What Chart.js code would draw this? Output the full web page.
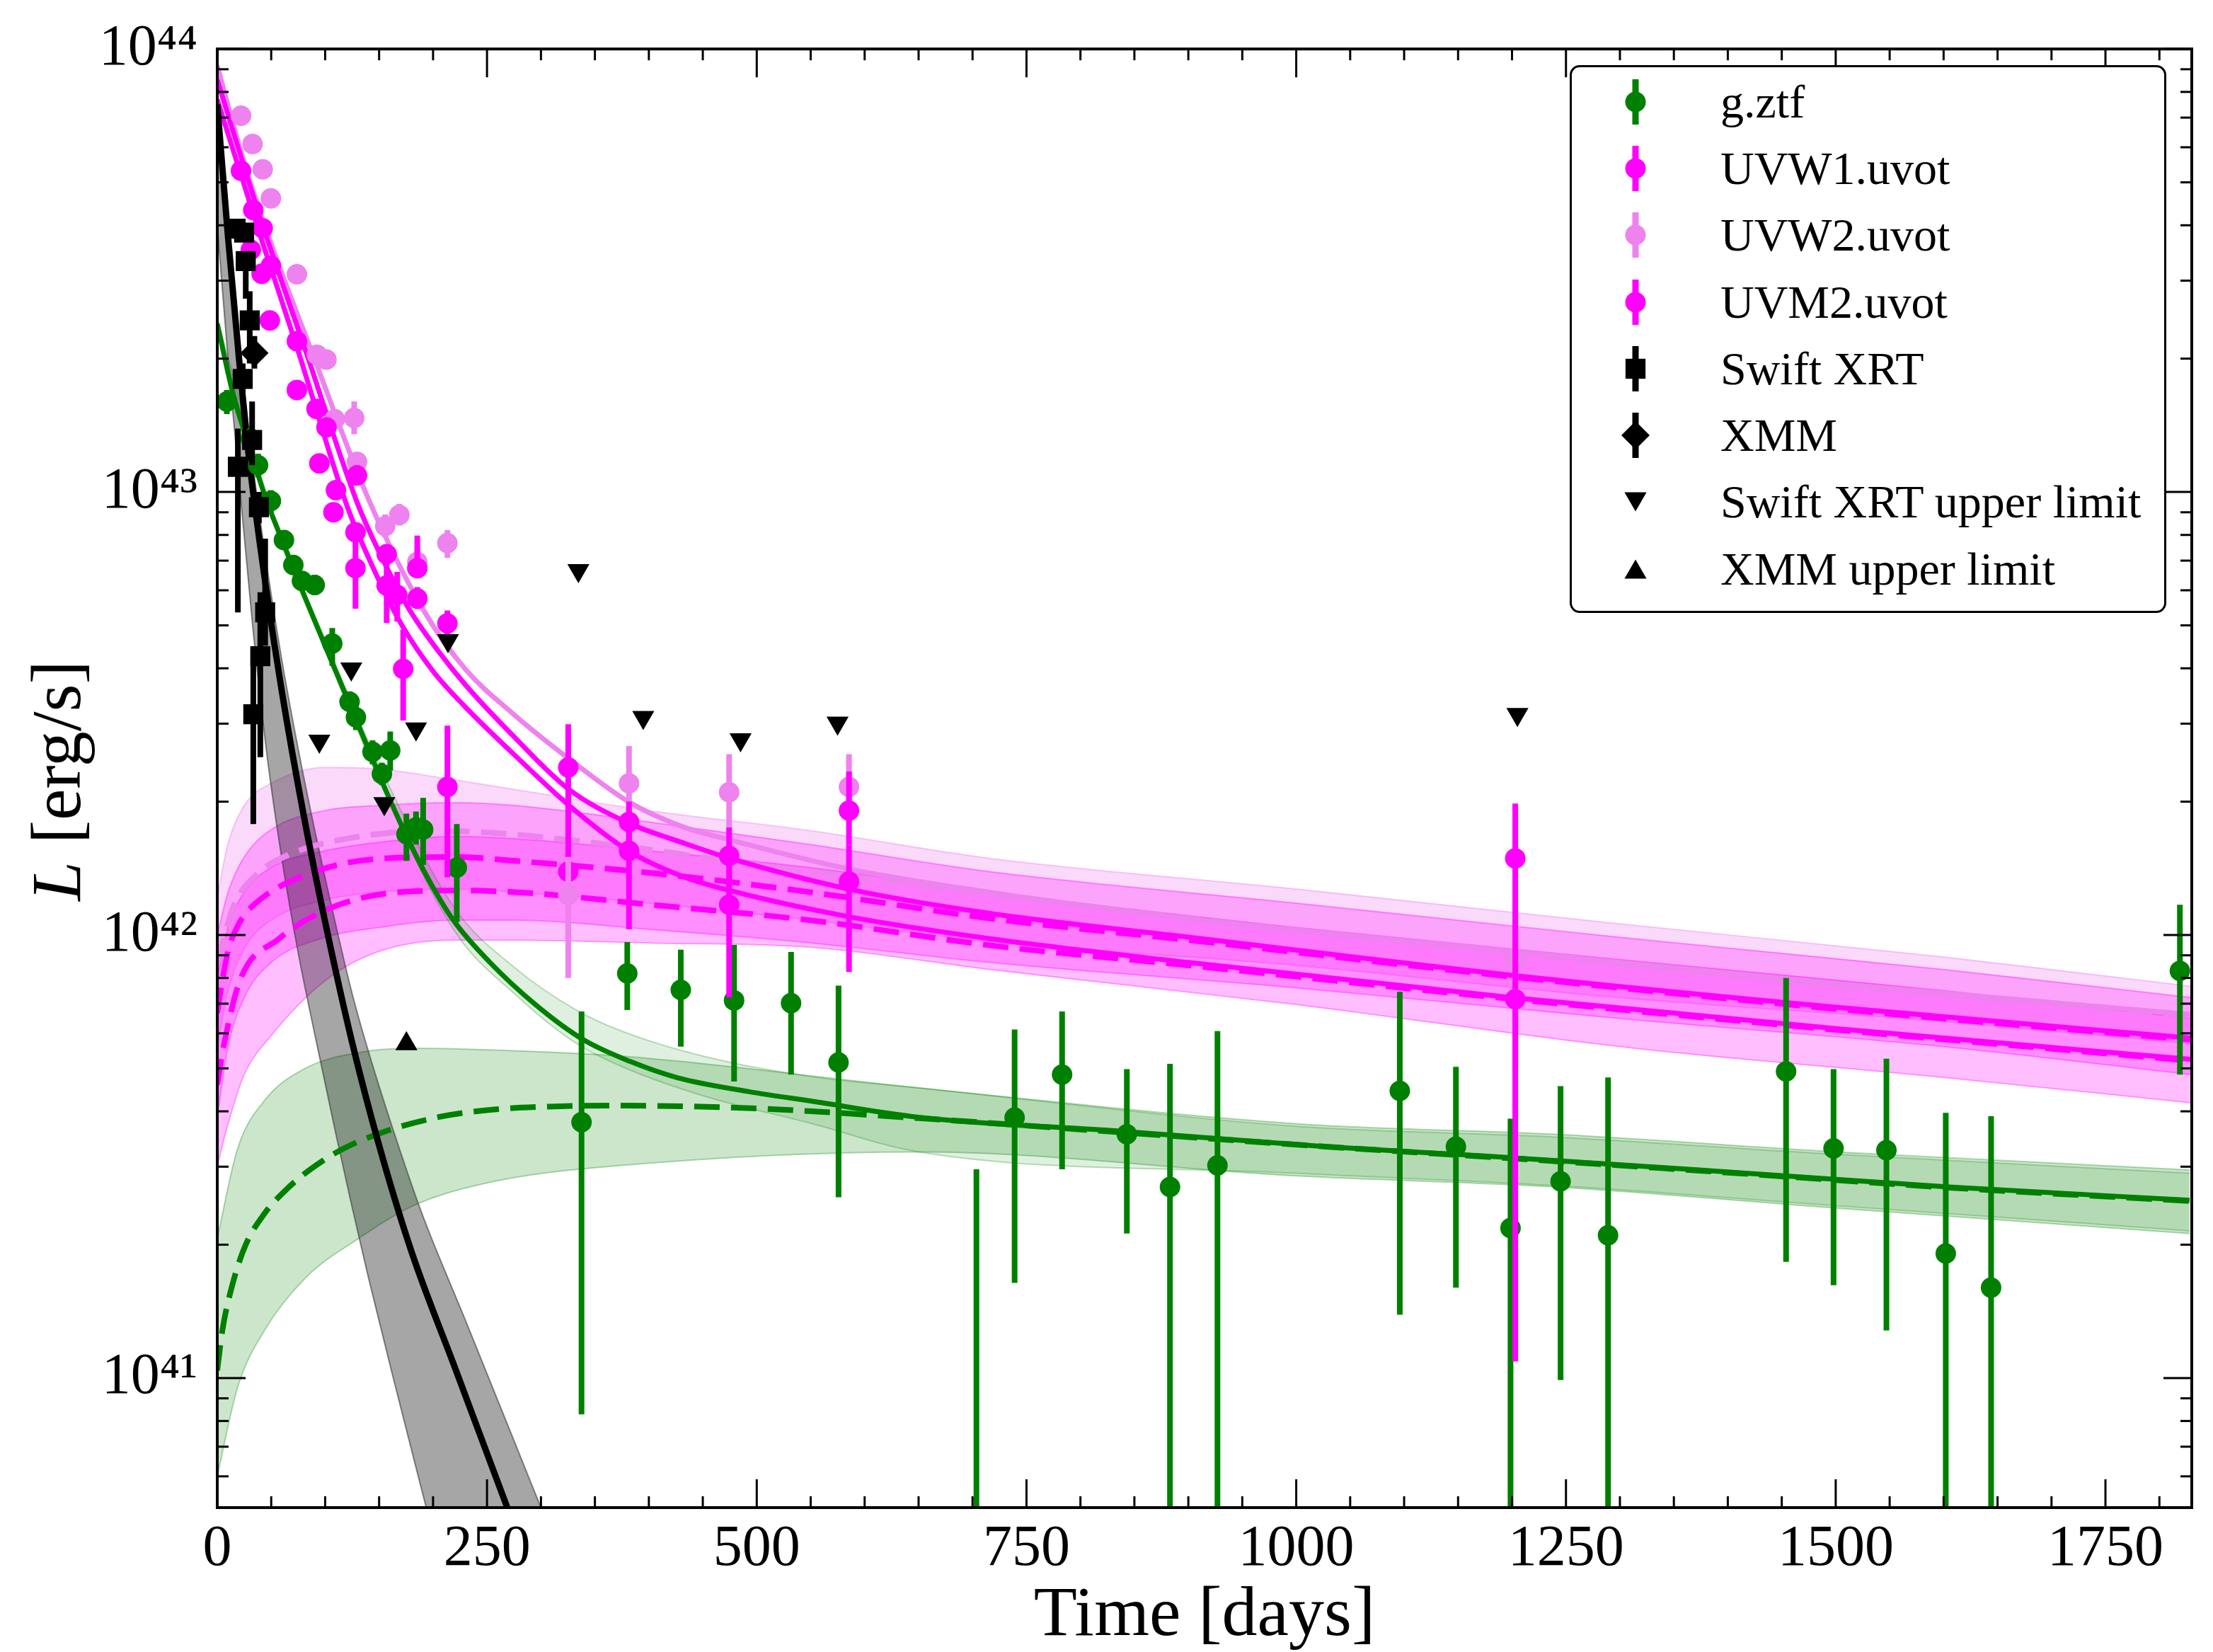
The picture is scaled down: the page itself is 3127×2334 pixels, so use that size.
<!DOCTYPE html>
<html>
<head>
<meta charset="utf-8">
<script src="https://cdn.jsdelivr.net/npm/chart.js@4.4.1/dist/chart.umd.min.js"></script>
<style>
  html, body { margin: 0; padding: 0; background: #fff; }
  #wrap { position: relative; width: 3127px; height: 2334px; font-family: 'Liberation Serif', 'DejaVu Serif', serif; }
  #yTitle { position: absolute; left: 80px; top: 1103px; transform: translate(-50%, -50%) rotate(-90deg);
            font-size: 100px; line-height: 1; white-space: nowrap; color: #000; }
  #legend { position: absolute; left: 2218px; top: 92px; width: 843px; height: 774px; box-sizing: border-box;
            border: 3px solid #000; border-radius: 14px; background: #fff; }
  .row { position: absolute; left: 50px; height: 94px; display: flex; align-items: center;
         font-size: 66px; line-height: 94px; color: #000; white-space: nowrap; }
  .row span { margin-left: 80px; }
</style>
</head>
<body>
<div id="wrap">
  <canvas id="c" width="3127" height="2334"></canvas>
  <div id="yTitle"><i>L</i> [erg/s]</div>
  <div id="legend"></div>
</div>
<script>
// ---- axis ticks ----
const xMajorTicks = [0, 250, 500, 750, 1000, 1250, 1500, 1750];
const yMajorTicks = [1e41, 1e42, 1e43, 1e44];

// ---- photometry: g.ztf ----
const gztfDays = [8.9, 31.1, 37.8, 49.7, 61.8, 70.5, 78.5, 90.3, 106.6, 122.6, 128.5, 143.9, 152.6, 160.3, 175.3, 184.2, 190.8, 222, 337.6, 380, 429.6, 479, 531.8, 575.8, 703.6, 739, 783, 843, 883, 927, 1096, 1148, 1198.6, 1245, 1289, 1454, 1498, 1547, 1602, 1644, 1819];
const gztfLum = [1.6e43, 1.32e43, 1.15e43, 9.55e42, 7.79e42, 6.84e42, 6.3e42, 6.17e42, 4.55e42, 3.36e42, 3.1e42, 2.59e42, 2.31e42, 2.61e42, 1.69e42, 1.75e42, 1.73e42, 1.42e42, 3.78e41, 8.19e41, 7.52e41, 7.12e41, 7.02e41, 5.16e41, 3.0e40, 3.87e41, 4.84e41, 3.55e41, 2.7e41, 3.02e41, 4.45e41, 3.33e41, 2.18e41, 2.78e41, 2.1e41, 4.92e41, 3.3e41, 3.27e41, 1.91e41, 1.6e41, 8.3e41];
const gztfHi = [1.7e43, 1.4e43, 1.22e43, 1.01e43, 8.2e42, 7.2e42, 6.6e42, 6.5e42, 4.93e42, 3.55e42, 3.3e42, 2.75e42, 2.45e42, 2.88e42, 1.88e42, 1.9e42, 2.04e42, 1.78e42, 6.72e41, 9.64e41, 9.27e41, 9.5e41, 9.16e41, 7.69e41, 2.96e41, 6.12e41, 6.72e41, 4.98e41, 5.12e41, 6.07e41, 7.45e41, 5.04e41, 3.85e41, 4.56e41, 4.77e41, 8.0e41, 4.98e41, 5.26e41, 3.97e41, 3.9e41, 1.17e42];
const gztfLo = [1.5e43, 1.25e43, 1.08e43, 9.0e42, 7.4e42, 6.5e42, 6.0e42, 5.85e42, 4.05e42, 3.17e42, 2.9e42, 2.43e42, 2.18e42, 2.35e42, 1.47e42, 1.6e42, 1.44e42, 1.07e42, 8.28e40, 6.77e41, 5.6e41, 4.67e41, 4.84e41, 2.56e41, 1e39, 1.64e41, 2.96e41, 2.12e41, 1e39, 1e39, 1.39e41, 1.6e41, 1e39, 9.9e40, 1e39, 1.83e41, 1.62e41, 1.28e41, 1e39, 1e39, 4.84e41];

// ---- photometry: UVW1 ----
const uvw1Days = [33.4, 41.1, 48.7, 73.8, 92, 94.6, 107.7, 128.1, 128.1, 157, 166.8, 172.3, 185.4, 213.3, 325.3, 381.6, 474.4, 585.5, 1203];
const uvw1Lum = [4.33e43, 3.11e43, 2.44e43, 1.7e43, 1.54e43, 1.16e43, 9.0e42, 8.11e42, 6.73e42, 6.15e42, 5.86e42, 3.99e42, 5.75e42, 2.16e42, 1.39e42, 1.55e42, 1.17e42, 1.32e42, 7.16e41];
const uvw1Hi = [4.5e43, 3.25e43, 2.55e43, 1.78e43, 1.61e43, 1.21e43, 9.4e42, 8.5e42, 8.1e42, 7.24e42, 6.6e42, 4.89e42, 6.1e42, 2.97e42, 1.9e42, 1.8e42, 1.5e42, 1.6e42, 9.0e41];
const uvw1Lo = [4.15e43, 2.98e43, 2.34e43, 1.63e43, 1.47e43, 1.11e43, 8.6e42, 7.75e42, 5.45e42, 5.06e42, 5.1e42, 3.05e42, 5.44e42, 1.35e42, 9.75e41, 1.03e42, 7.23e41, 8.25e41, 5.0e41];

// ---- photometry: UVW2 ----
const uvw2Days = [22, 32.7, 42.1, 49.7, 73.8, 92.4, 101.2, 108.9, 126.9, 129.5, 155.7, 168.8, 185.4, 213.3, 325.3, 381.6, 474.4, 585.5, 1203];
const uvw2Lum = [7.07e43, 6.1e43, 5.35e43, 4.6e43, 3.1e43, 2.04e43, 1.99e43, 1.46e43, 1.47e43, 1.17e43, 8.38e42, 8.88e42, 6.95e42, 7.67e42, 1.23e42, 2.2e42, 2.1e42, 2.16e42, 8.8e41];
const uvw2Hi = [7.3e43, 6.3e43, 5.5e43, 4.75e43, 3.2e43, 2.1e43, 2.05e43, 1.52e43, 1.6e43, 1.22e43, 8.9e42, 9.4e42, 7.5e42, 8.2e42, 1.7e42, 2.67e42, 2.56e42, 2.56e42, 9.8e41];
const uvw2Lo = [6.85e43, 5.9e43, 5.2e43, 4.45e43, 3.0e43, 1.98e43, 1.93e43, 1.4e43, 1.35e43, 1.12e43, 7.9e42, 8.4e42, 6.5e42, 7.1e42, 8.0e41, 1.8e42, 1.34e42, 1.8e42, 4.95e41];

// ---- photometry: UVM2 ----
const uvm2Days = [22.0, 31.1, 42.1, 49.7, 73.8, 101.2, 110, 129.5, 157, 185.4, 213.3, 325.3, 381.6, 474.4, 585.5, 1203];
const uvm2Lum = [5.31e43, 3.52e43, 3.94e43, 3.24e43, 2.19e43, 1.4e43, 1.01e43, 1.09e43, 7.24e42, 6.73e42, 5.05e42, 2.39e42, 1.8e42, 1.51e42, 1.91e42, 1.49e42];
const uvm2Hi = [5.5e43, 3.65e43, 4.1e43, 3.4e43, 2.3e43, 1.47e43, 1.06e43, 1.15e43, 7.6e42, 7.97e42, 5.4e42, 2.99e42, 2.0e42, 1.75e42, 2.34e42, 1.98e42];
const uvm2Lo = [5.1e43, 3.38e43, 3.8e43, 3.1e43, 2.1e43, 1.34e43, 9.7e42, 1.04e43, 6.9e42, 6.4e42, 4.7e42, 1.5e42, 1.6e42, 1.25e42, 1.6e42, 1.09e41];

// ---- X-ray ----
const xrtDays = [17, 24.9, 26.4, 30.1, 23.6, 32.3, 19.1, 38.6, 44.4, 39.9, 33.4];
const xrtLum = [3.93e43, 3.85e43, 3.32e43, 2.44e43, 1.8e43, 1.31e43, 1.14e43, 9.24e42, 5.35e42, 4.26e42, 3.15e42];
const xrtHi = [4.1e43, 4.0e43, 3.46e43, 2.84e43, 1.95e43, 1.6e43, 1.39e43, 1.0e43, 7.85e42, 5.94e42, 4.44e42];
const xrtLo = [3.75e43, 3.7e43, 2.73e43, 1.95e43, 1.65e43, 1.15e43, 5.35e42, 8.5e42, 4.5e42, 2.52e42, 1.78e42];
const xmmDays = [34.4];
const xmmLum = [2.06e43];
const xmmHi = [2.25e43];
const xmmLo = [1.9e43];
const xrtUlDays = [94.6, 124.2, 154.8, 184.2, 213.8, 334.7, 394.8, 485, 574.9, 1205];
const xrtUlLum = [2.74e42, 3.99e42, 1.98e42, 2.92e42, 4.62e42, 6.65e42, 3.1e42, 2.76e42, 3.01e42, 3.15e42];
const xmmUlDays = [175.3];
const xmmUlLum = [5.68e41];

// ---- model: g band ----
const gFitDays = [0, 15, 30, 45, 60, 80, 100, 120, 140, 160, 180, 200, 220, 252, 296, 340, 383, 427, 493, 550, 650, 842, 1027, 1175, 1390, 1605, 1828];
const gFitLum = [2.40e43, 1.65e43, 1.26e43, 9.66e42, 7.80e42, 5.89e42, 4.49e42, 3.44e42, 2.63e42, 2.02e42, 1.585e42, 1.28e42, 1.07e42, 8.71e41, 6.93e41, 5.79e41, 5.18e41, 4.76e41, 4.43e41, 4.22e41, 3.88e41, 3.60e41, 3.33e41, 3.17e41, 2.93e41, 2.70e41, 2.52e41];
const gFitBandDays = [0, 50, 100, 150, 220, 276, 332, 374, 450, 550, 650, 1000, 1240, 1500, 1828];
const gFitBandHi = [2.46e43, 9.2e42, 4.65e42, 2.42e42, 1.15e42, 8.43e41, 6.79e41, 6.08e41, 5.33e41, 4.79e41, 4.52e41, 3.7e41, 3.5e41, 3.2e41, 2.9e41];
const gFitBandLo = [2.35e43, 8.79e42, 4.39e42, 2.23e42, 1.02e42, 7.35e41, 5.71e41, 5.06e41, 4.34e41, 3.76e41, 3.24e41, 2.9e41, 2.72e41, 2.45e41, 2.15e41];
const gPlatDays = [0, 4.7, 13.6, 26, 43.7, 63.7, 86.4, 116.4, 156.6, 206.9, 257, 307.3, 374.6, 500, 650, 842, 1027, 1175, 1390, 1605, 1828];
const gPlatLum = [1.04e41, 1.28e41, 1.61e41, 1.99e41, 2.35e41, 2.66e41, 2.96e41, 3.29e41, 3.61e41, 3.89e41, 4.04e41, 4.10e41, 4.12e41, 4.06e41, 3.86e41, 3.58e41, 3.33e41, 3.16e41, 2.92e41, 2.69e41, 2.51e41];
const gPlatBandDays = [0, 18.8, 43.7, 81.5, 131.6, 181.8, 257, 374.6, 650, 1000, 1240, 1500, 1828];
const gPlatBandHi = [2.07e41, 3.29e41, 4.23e41, 5.0e41, 5.43e41, 5.55e41, 5.5e41, 5.33e41, 4.52e41, 3.75e41, 3.55e41, 3.24e41, 2.95e41];
const gPlatBandLo = [6.0e40, 9.52e40, 1.28e41, 1.68e41, 2.07e41, 2.45e41, 2.78e41, 3.02e41, 3.24e41, 2.86e41, 2.70e41, 2.42e41, 2.12e41];

// ---- model: X-ray ----
const xFitDays = [0, 10, 20, 30, 45, 60, 80, 100, 125, 150, 180, 220, 270, 300];
const xFitLum = [7.5e43, 3.76e43, 2.02e43, 1.16e43, 6.13e42, 3.53e42, 1.87e42, 1.07e42, 5.72e41, 3.35e41, 1.93e41, 1.06e41, 5.01e40, 3.22e40];
const xBandDays = [0, 10, 20, 33, 46, 60, 75, 90, 110, 125, 140, 165, 190, 230, 300];
const xBandHi = [8.04e43, 4.12e43, 2.21e43, 1.15e43, 6.79e42, 4.15e42, 2.63e42, 1.74e42, 1.05e42, 7.37e41, 5.47e41, 3.51e41, 2.34e41, 1.35e41, 5.1e40];
const xBandLo = [4.0e43, 2.0e43, 1.08e43, 4.94e42, 2.56e42, 1.48e42, 9.12e41, 6.03e41, 3.55e41, 2.43e41, 1.69e41, 9.6e40, 5.53e40, 2.31e40, 5.1e39];

// ---- model: UV bands ----
const w2FitDays = [0, 25, 50, 90, 140, 192, 230, 274, 325, 381, 430, 475, 585, 715, 900, 1200, 1500, 1830];
const w2FitLum = [9.16e43, 5.53e43, 3.63e43, 2.0e43, 9.66e42, 5.37e42, 3.98e42, 3.16e42, 2.51e42, 2.0e42, 1.76e42, 1.64e42, 1.41e42, 1.25e42, 1.09e42, 9.18e41, 7.76e41, 6.62e41];
const m2FitDays = [0, 40, 82, 130, 155, 178, 205, 230, 274, 325, 381, 430, 475, 585, 715, 900, 1200, 1500, 1830];
const m2FitLum = [8.51e43, 4.14e43, 2.08e43, 9.42e42, 6.92e42, 5.43e42, 4.37e42, 3.67e42, 2.82e42, 2.14e42, 1.79e42, 1.62e42, 1.49e42, 1.27e42, 1.12e42, 9.89e41, 8.11e41, 6.87e41, 5.85e41];
const w1FitDays = [0, 40, 75, 121, 150, 171, 200, 230, 274, 325, 381, 430, 475, 585, 715, 900, 1200, 1500, 1830];
const w1FitLum = [7.69e43, 3.78e43, 2.08e43, 9.2e42, 6.31e42, 5.01e42, 3.94e42, 3.27e42, 2.57e42, 1.97e42, 1.55e42, 1.36e42, 1.26e42, 1.10e42, 9.82e41, 8.67e41, 7.22e41, 6.15e41, 5.24e41];
const w2PlatDays = [0, 15, 35, 64, 120, 200, 256, 382, 490, 716, 900, 1200, 1500, 1830];
const w2PlatLum = [8.67e41, 1.16e42, 1.36e42, 1.51e42, 1.65e42, 1.72e42, 1.70e42, 1.58e42, 1.45e42, 1.24e42, 1.09e42, 9.12e41, 7.71e41, 6.57e41];
const m2PlatDays = [0, 2.7, 10, 20, 35.6, 90.3, 155.8, 221.5, 276, 403, 549, 716, 900, 1200, 1500, 1830];
const m2PlatLum = [6.67e41, 7.38e41, 9.19e41, 1.06e42, 1.18e42, 1.39e42, 1.49e42, 1.50e42, 1.47e42, 1.38e42, 1.25e42, 1.09e42, 9.74e41, 8.05e41, 6.81e41, 5.8e41];
const w1PlatDays = [0, 6.3, 21.3, 56.5, 101, 155.8, 221.5, 276, 403, 549, 716, 900, 1200, 1500, 1830];
const w1PlatLum = [4.6e41, 5.67e41, 7.93e41, 9.78e41, 1.14e42, 1.24e42, 1.26e42, 1.25e42, 1.17e42, 1.08e42, 9.48e41, 8.54e41, 7.17e41, 6.11e41, 5.2e41];
const uvBandDays = [0, 10, 25, 50, 100, 150, 220, 276, 400, 550, 716, 1000, 1300, 1600, 1830];
const w2BandHi = [1.22e42, 1.61e42, 1.96e42, 2.2e42, 2.39e42, 2.37e42, 2.24e42, 2.13e42, 1.91e42, 1.72e42, 1.49e42, 1.27e42, 1.06e42, 8.92e41, 7.66e41];
const w2BandLo = [5.6e41, 7.49e41, 9.32e41, 1.08e42, 1.2e42, 1.25e42, 1.27e42, 1.25e42, 1.18e42, 1.08e42, 9.67e41, 8.54e41, 7.22e41, 6.38e41, 5.68e41];
const m2BandHi = [1.0e42, 1.25e42, 1.5e42, 1.73e42, 1.91e42, 1.96e42, 1.99e42, 1.96e42, 1.8e42, 1.6e42, 1.39e42, 1.18e42, 9.88e41, 8.36e41, 7.22e41];
const m2BandLo = [3.89e41, 5.6e41, 7.22e41, 8.67e41, 9.88e41, 1.04e42, 1.08e42, 1.08e42, 1.03e42, 9.6e41, 8.67e41, 7.6e41, 6.48e41, 5.6e41, 4.84e41];
const w1BandHi = [8.06e41, 1.04e42, 1.25e42, 1.42e42, 1.55e42, 1.62e42, 1.67e42, 1.65e42, 1.55e42, 1.42e42, 1.25e42, 1.04e42, 8.8e41, 7.49e41, 6.48e41];
const w1BandLo = [3.01e41, 3.75e41, 4.84e41, 5.93e41, 7.89e41, 9.19e41, 9.74e41, 9.74e41, 9.6e41, 9.39e41, 8.36e41, 6.97e41, 5.6e41, 4.77e41, 4.18e41];

const FONT = "'Liberation Serif', 'DejaVu Serif', serif";
const GREEN = '#008000', MAGENTA = '#ff00ff', VIOLET = '#ee82ee', BLACK = '#000000';

const pts = (xs, ys) => xs.map((d, i) => ({ x: d, y: ys[i] }));

const datasets = [];

// scatter sets (drawn on top, lower order = later)
function scatter(label, xs, ys, hi, lo, color, style, radius, rotation, order) {
  datasets.push({
    type: 'scatter', label, data: pts(xs, ys), errHi: hi, errLo: lo,
    pointStyle: style, pointRadius: radius, pointRotation: rotation,
    pointBackgroundColor: color, pointBorderColor: color, pointBorderWidth: 0,
    backgroundColor: color, borderColor: color, order, inLegend: true
  });
}
scatter('g.ztf', gztfDays, gztfLum, gztfHi, gztfLo, GREEN, 'circle', 14.5, 0, 8);
scatter('UVW1.uvot', uvw1Days, uvw1Lum, uvw1Hi, uvw1Lo, MAGENTA, 'circle', 14.5, 0, 7);
scatter('UVW2.uvot', uvw2Days, uvw2Lum, uvw2Hi, uvw2Lo, VIOLET, 'circle', 14.5, 0, 6);
scatter('UVM2.uvot', uvm2Days, uvm2Lum, uvm2Hi, uvm2Lo, MAGENTA, 'circle', 14.5, 0, 5);
scatter('Swift XRT', xrtDays, xrtLum, xrtHi, xrtLo, BLACK, 'rect', 20, 0, 4);
scatter('XMM', xmmDays, xmmLum, xmmHi, xmmLo, BLACK, 'rectRot', 20, 0, 3);
scatter('Swift XRT upper limit', xrtUlDays, xrtUlLum, null, null, BLACK, 'triangle', 18, 180, 2);
scatter('XMM upper limit', xmmUlDays, xmmUlLum, null, null, BLACK, 'triangle', 18, 0, 1);

// model curves
function curve(xs, ys, color, width, dash, order) {
  datasets.push({
    type: 'line', data: pts(xs, ys), borderColor: color, borderWidth: width, borderDash: dash,
    pointRadius: 0, fill: false, cubicInterpolationMode: 'monotone', order
  });
}
curve(xFitDays, xFitLum, BLACK, 9, [], 15);
curve(gFitDays, gFitLum, GREEN, 7, [], 20);
curve(w1FitDays, w1FitLum, MAGENTA, 7, [], 21);
curve(m2FitDays, m2FitLum, MAGENTA, 7, [], 22);
curve(w2FitDays, w2FitLum, VIOLET, 7, [], 23);
curve(gPlatDays, gPlatLum, GREEN, 8, [36, 16], 25);
curve(w1PlatDays, w1PlatLum, MAGENTA, 8, [36, 16], 26);
curve(m2PlatDays, m2PlatLum, MAGENTA, 8, [36, 16], 27);
curve(w2PlatDays, w2PlatLum, VIOLET, 8, [36, 16], 28);

// uncertainty bands (fill between two lines)
function band(xs, hi, lo, fillColor, edgeColor, order) {
  const loIndex = datasets.length;
  datasets.push({
    type: 'line', data: pts(xs, lo), borderColor: edgeColor, borderWidth: 2,
    pointRadius: 0, fill: false, cubicInterpolationMode: 'monotone', order
  });
  datasets.push({
    type: 'line', data: pts(xs, hi), borderColor: edgeColor, borderWidth: 2,
    pointRadius: 0, cubicInterpolationMode: 'monotone', order,
    fill: { target: loIndex, above: fillColor, below: fillColor }
  });
}
band(xBandDays, xBandHi, xBandLo, 'rgba(0,0,0,0.35)', 'rgba(60,60,60,0.6)', 40);
band(gFitBandDays, gFitBandHi, gFitBandLo, 'rgba(0,128,0,0.12)', 'rgba(0,128,0,0.25)', 41);
band(gPlatBandDays, gPlatBandHi, gPlatBandLo, 'rgba(0,128,0,0.2)', 'rgba(0,128,0,0.3)', 42);
band(uvBandDays, w1BandHi, w1BandLo, 'rgba(255,0,255,0.25)', 'rgba(255,0,255,0.35)', 43);
band(uvBandDays, m2BandHi, m2BandLo, 'rgba(255,0,255,0.25)', 'rgba(255,0,255,0.35)', 44);
band(uvBandDays, w2BandHi, w2BandLo, 'rgba(238,130,238,0.3)', 'rgba(238,130,238,0.4)', 45);

// error bars drawn just before each scatter set
const errorBars = {
  id: 'errorBars',
  beforeDatasetDraw(chart, args) {
    const ds = chart.data.datasets[args.index];
    if (!ds.errHi) return;
    const { ctx, chartArea: a, scales: { x, y } } = chart;
    ctx.save();
    ctx.beginPath();
    ctx.rect(a.left, a.top, a.right - a.left, a.bottom - a.top);
    ctx.clip();
    ctx.strokeStyle = ds.pointBackgroundColor;
    ctx.lineWidth = 8;
    ds.data.forEach((p, i) => {
      const px = x.getPixelForValue(p.x);
      ctx.beginPath();
      ctx.moveTo(px, y.getPixelForValue(ds.errHi[i]));
      ctx.lineTo(px, y.getPixelForValue(ds.errLo[i]));
      ctx.stroke();
    });
    ctx.restore();
  }
};

// frame with inward ticks on all four sides
const axisFrame = {
  id: 'axisFrame',
  afterDatasetsDraw(chart) {
    const { ctx, chartArea: a, scales: { x, y } } = chart;
    const seg = (x1, y1, x2, y2) => { ctx.beginPath(); ctx.moveTo(x1, y1); ctx.lineTo(x2, y2); ctx.stroke(); };
    ctx.save();
    ctx.strokeStyle = '#000';
    ctx.lineWidth = 3;
    for (let v = 0; v <= x.max; v += 50) {
      const len = xMajorTicks.includes(v) ? 40 : 16;
      const px = x.getPixelForValue(v);
      seg(px, a.bottom, px, a.bottom - len);
      seg(px, a.top, px, a.top + len);
    }
    for (let e = 40; e <= 44; e++) {
      for (let m = 1; m <= 9; m++) {
        const v = m * Math.pow(10, e);
        if (v < y.min || v > y.max * 1.0001) continue;
        const len = m === 1 ? 40 : 16;
        const py = y.getPixelForValue(v);
        seg(a.left, py, a.left + len, py);
        seg(a.right, py, a.right - len, py);
      }
    }
    ctx.lineWidth = 4;
    ctx.strokeRect(a.left, a.top, a.right - a.left, a.bottom - a.top);
    ctx.restore();
  }
};

const SUP = { '0': '\u2070', '1': '\u00b9', '2': '\u00b2', '3': '\u00b3', '4': '\u2074', '5': '\u2075', '6': '\u2076', '7': '\u2077', '8': '\u2078', '9': '\u2079' };
const powLabel = v => '10' + String(Math.round(Math.log10(v))).split('').map(c => SUP[c]).join('');

new Chart(document.getElementById('c'), {
  data: { datasets },
  options: {
    responsive: false,
    animation: false,
    events: [],
    layout: { padding: { top: 58, right: 30, left: 0, bottom: 0 } },
    plugins: { legend: { display: false }, tooltip: { enabled: false } },
    scales: {
      x: {
        type: 'linear', min: 0, max: 1830,
        grid: { display: false }, border: { display: false },
        afterBuildTicks: s => { s.ticks = xMajorTicks.map(v => ({ value: v })); },
        ticks: { autoSkip: false, maxRotation: 0, padding: 2, color: '#000', font: { family: FONT, size: 82 }, callback: v => String(v) },
        title: { display: true, text: 'Time [days]', color: '#000', padding: 0, font: { family: FONT, size: 100, lineHeight: 1 } },
        afterFit: s => { s.height = 204; }
      },
      y: {
        type: 'logarithmic', min: 5.1e40, max: 1e44,
        grid: { display: false }, border: { display: false },
        afterBuildTicks: s => { s.ticks = yMajorTicks.map(v => ({ value: v })); },
        ticks: { autoSkip: false, padding: 20, color: '#000', font: { family: FONT, size: 82 }, callback: powLabel },
        afterFit: s => { s.width = 307; }
      }
    }
  },
  plugins: [errorBars, axisFrame]
});

// legend in the upper right corner
function drawMarker(g, style, x, y, r, rotation) {
  g.beginPath();
  if (style === 'circle') {
    g.arc(x, y, r, 0, 2 * Math.PI);
  } else if (style === 'rect') {
    const s = r * Math.SQRT1_2;
    g.rect(x - s, y - s, 2 * s, 2 * s);
  } else if (style === 'rectRot') {
    g.moveTo(x, y - r); g.lineTo(x + r, y); g.lineTo(x, y + r); g.lineTo(x - r, y); g.closePath();
  } else {
    const dir = rotation === 180 ? -1 : 1;
    const cy = y + dir * r * 0.25;
    g.moveTo(x, cy - dir * r);
    g.lineTo(x + r * 0.866, cy + dir * r * 0.5);
    g.lineTo(x - r * 0.866, cy + dir * r * 0.5);
    g.closePath();
  }
  g.fill();
}

const legendBox = document.getElementById('legend');
datasets.filter(d => d.inLegend).forEach((d, i) => {
  const row = document.createElement('div');
  row.className = 'row';
  row.style.top = (48.6 + 94.3 * i - 47) + 'px';
  const c = document.createElement('canvas');
  c.width = 80; c.height = 80;
  const g = c.getContext('2d');
  if (d.errHi) {
    g.strokeStyle = d.pointBackgroundColor;
    g.lineWidth = 9;
    g.beginPath(); g.moveTo(40, 8); g.lineTo(40, 72); g.stroke();
  }
  g.fillStyle = d.pointBackgroundColor;
  drawMarker(g, d.pointStyle, 40, 40, d.pointRadius, d.pointRotation);
  const span = document.createElement('span');
  span.textContent = d.label;
  row.append(c, span);
  legendBox.appendChild(row);
});
</script>
</body>
</html>
